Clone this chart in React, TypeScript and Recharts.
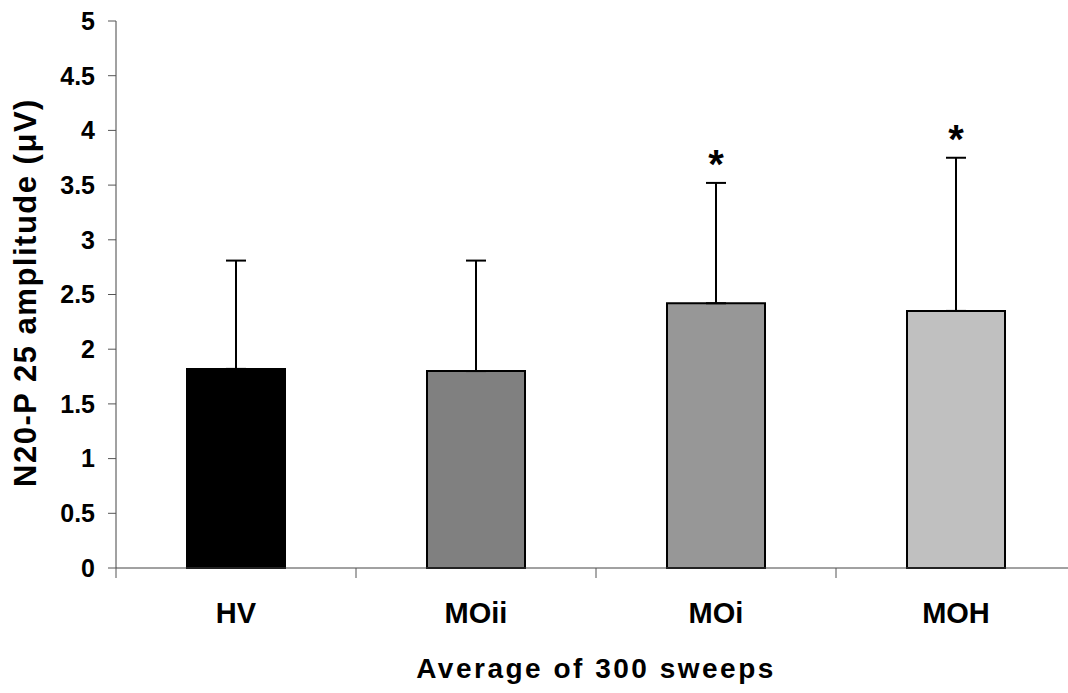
import { ComposedChart, Bar, Cell, ErrorBar, Scatter, XAxis, YAxis } from "recharts";

const categories = ["HV", "MOii", "MOi", "MOH"];
const means = [1.82, 1.8, 2.42, 2.35];
const upperBounds = [2.81, 2.81, 3.52, 3.75];
const significant = [false, false, true, true];
const yTicks = [0, 0.5, 1, 1.5, 2, 2.5, 3, 3.5, 4, 4.5, 5];

const barFills = ["#000000", "#808080", "#979797", "#c0c0c0"];
const FONT = "'Liberation Sans', Arial, sans-serif";

const data = categories.map((name, i) => ({
  name,
  mean: means[i],
  err: [0, +(upperBounds[i] - means[i]).toFixed(2)],
  star: significant[i] ? upperBounds[i] : null,
}));

const CHART_W = 1090;
const CHART_H = 693;
const MARGIN = { top: 21, right: 14, bottom: 0, left: 0 };
const Y_AXIS_W = 116;
const HALF_BAND = (CHART_W - MARGIN.left - MARGIN.right - Y_AXIS_W) / categories.length / 2;

function XTick(props: any) {
  const { x, y, payload } = props;
  return (
    <g>
      <line x1={x - HALF_BAND} y1={y - 10} x2={x - HALF_BAND} y2={y} stroke="#555" strokeWidth={1} />
      <text x={x} y={y + 45} textAnchor="middle" fontFamily={FONT} fontWeight="bold" fontSize={29} fill="#000">
        {payload.value}
      </text>
    </g>
  );
}

function Star(props: any) {
  const { cx, cy, payload } = props;
  if (payload.star == null) return null;
  return (
    <text x={cx} y={cy - 5} textAnchor="middle" fontFamily={FONT} fontWeight="bold" fontSize={40} fill="#000">
      *
    </text>
  );
}

export default function App() {
  return (
    <div style={{ position: "absolute", left: 0, top: 0, width: 1068, height: 693, overflow: "hidden", background: "#fff" }}>
      <ComposedChart width={CHART_W} height={CHART_H} data={data} margin={MARGIN}>
        <XAxis
          dataKey="name"
          height={125}
          axisLine={{ stroke: "#444", strokeWidth: 1 }}
          tickLine={false}
          tickSize={10}
          tickMargin={0}
          tick={<XTick />}
          interval={0}
          label={({ viewBox }: any) => (
            <text
              x={viewBox.x + viewBox.width / 2}
              y={viewBox.y + 110}
              textAnchor="middle"
              fontFamily={FONT}
              fontWeight="bold"
              fontSize={28}
              letterSpacing={2.5}
              fill="#000"
            >
              Average of 300 sweeps
            </text>
          )}
        />
        <YAxis
          domain={[0, 5]}
          ticks={yTicks}
          interval={0}
          width={Y_AXIS_W}
          axisLine={{ stroke: "#444", strokeWidth: 1 }}
          tickLine={{ stroke: "#555", strokeWidth: 1 }}
          tickSize={8}
          tickMargin={13}
          tick={{ fontFamily: FONT, fontWeight: "bold", fontSize: 25, fill: "#000" }}
          label={({ viewBox }: any) => {
            const cx = 25;
            const cy = viewBox.y + viewBox.height / 2 - 2;
            return (
              <text
                x={cx}
                y={cy}
                transform={`rotate(-90 ${cx} ${cy})`}
                textAnchor="middle"
                dominantBaseline="central"
                fontFamily={FONT}
                fontWeight="bold"
                fontSize={31}
                letterSpacing={1.5}
                fill="#000"
              >
                {"N20-P 25 amplitude  (\u03bcV)"}
              </text>
            );
          }}
        />
        <Bar dataKey="mean" barSize={98} stroke="#000" strokeWidth={2} isAnimationActive={false}>
          {data.map((d, i) => (
            <Cell key={d.name} fill={barFills[i]} />
          ))}
          <ErrorBar dataKey="err" direction="y" width={10} stroke="#000" strokeWidth={2} />
        </Bar>
        <Scatter dataKey="star" shape={<Star />} isAnimationActive={false} />
      </ComposedChart>
    </div>
  );
}
